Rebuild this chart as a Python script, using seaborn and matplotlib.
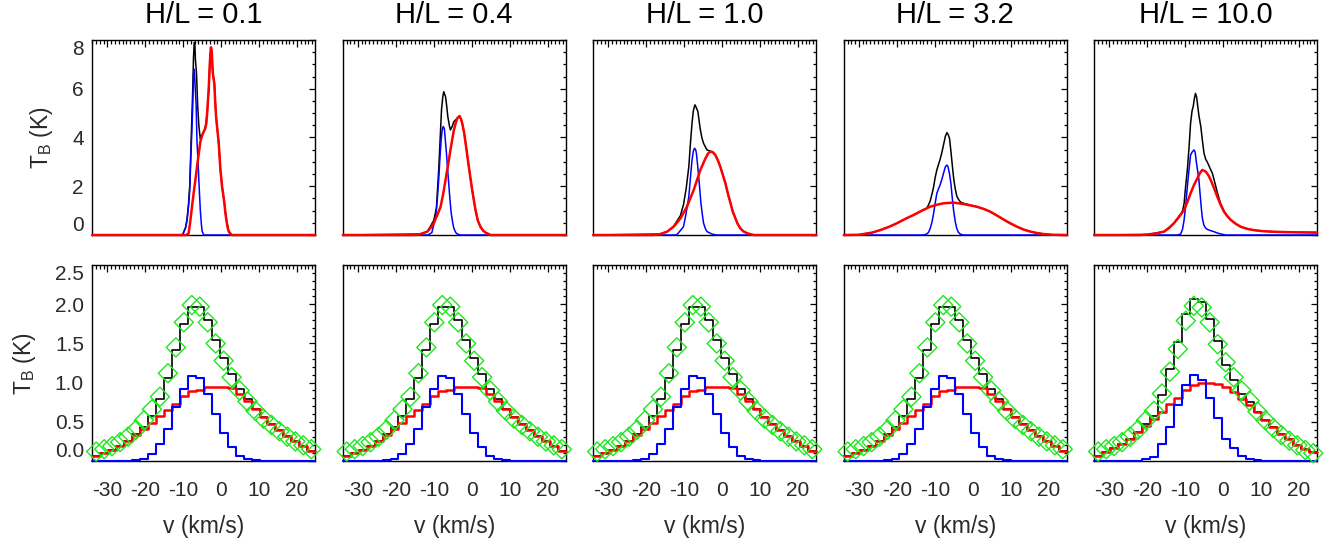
import numpy as np
import pandas as pd
import matplotlib
matplotlib.use("Agg")
import matplotlib.pyplot as plt
from matplotlib.ticker import MultipleLocator, FormatStrFormatter
import seaborn as sns

sns.set_theme(style="white")
plt.rcParams["font.family"] = ["Liberation Sans", "DejaVu Sans"]
plt.rcParams["mathtext.fontset"] = "custom"
plt.rcParams["mathtext.rm"] = "Liberation Sans"
plt.rcParams["mathtext.it"] = "Liberation Sans:italic"
plt.rcParams["axes.unicode_minus"] = False

# panel titles
ratios = ["0.1", "0.4", "1.0", "3.2", "10.0"]

# ---- top row: full-resolution spectra, (v [km/s], T_B [K]) ----
p1_black = [(-34.0, 0), (-10.2, 0), (-9.4, 0.3), (-9.0, 0.65), (-8.6, 1.3), (-8.3, 2.0), (-8.0, 3.5),
            (-7.7, 5.0), (-7.5, 6.0), (-7.3, 7.3), (-7.1, 7.9), (-6.95, 7.85), (-6.8, 7.2), (-6.5, 6.6),
            (-6.2, 5.3), (-5.9, 4.5), (-5.7, 4.2), (-5.5, 3.95), (-5.3, 4.05), (-5.05, 4.1), (-4.6, 4.24),
            (-4.2, 4.38), (-3.7, 5.0), (-3.3, 5.95), (-2.85, 7.45), (-2.6, 7.52), (-2.2, 6.63), (-1.8, 6.2),
            (-1.35, 4.86), (-0.65, 3.76), (-0.2, 2.67), (0.23, 1.98), (0.85, 1.3), (1.37, 0.62), (2.0, 0.14),
            (2.9, 0), (24.8, 0)]
p1_blue = [(-34.0, 0), (-10.2, 0), (-9.4, 0.3), (-9.0, 0.6), (-8.6, 1.2), (-8.3, 1.85), (-8.0, 3.2),
           (-7.7, 4.4), (-7.5, 5.3), (-7.3, 6.6), (-7.1, 6.8), (-6.9, 6.2), (-6.6, 5.3), (-6.4, 3.9),
           (-6.1, 3.0), (-5.9, 2.26), (-5.5, 1.0), (-5.2, 0.4), (-5.0, 0.14), (-4.6, 0), (24.8, 0)]
p1_red = [(-34.0, 0), (-9.2, 0), (-8.6, 0.07), (-8.2, 0.5), (-7.7, 1.16), (-7.2, 1.8), (-6.8, 2.26),
          (-6.3, 2.9), (-5.9, 3.35), (-5.5, 3.83), (-5.0, 4.1), (-4.6, 4.24), (-4.2, 4.38), (-3.9, 4.6),
          (-3.7, 5.0), (-3.5, 5.5), (-3.3, 5.95), (-3.05, 6.9), (-2.85, 7.45), (-2.7, 7.7), (-2.5, 7.55),
          (-2.2, 6.63), (-1.8, 6.2), (-1.6, 5.5), (-1.35, 4.86), (-1.0, 4.3), (-0.65, 3.76), (-0.2, 2.67),
          (0.23, 1.98), (0.5, 1.7), (0.85, 1.3), (1.1, 0.9), (1.37, 0.62), (1.7, 0.3), (2.0, 0.14),
          (2.5, 0.03), (2.9, 0), (24.8, 0)]

p2_black = [(-34.0, 0), (-13.5, 0.04), (-11.7, 0.14), (-10.9, 0.35), (-10.0, 0.6), (-9.3, 1.1), (-8.7, 2.67),
            (-8.3, 4.0), (-7.96, 5.13), (-7.6, 5.7), (-7.35, 5.88), (-7.1, 5.75), (-6.9, 5.68), (-6.6, 5.3),
            (-6.3, 4.86), (-5.9, 4.5), (-5.6, 4.31), (-5.15, 4.45), (-4.7, 4.65), (-3.8, 4.79), (-3.2, 4.88),
            (-2.8, 4.75), (-2.5, 4.58), (-2.0, 4.2), (-1.6, 3.76), (-1.2, 3.3), (-0.75, 2.8), (-0.3, 2.3),
            (0.13, 1.85), (0.6, 1.4), (1.0, 1.03), (1.6, 0.6), (2.3, 0.34), (3.0, 0.18), (3.65, 0.1),
            (5.0, 0), (24.8, 0)]
p2_blue = [(-34.0, 0), (-11.5, 0), (-10.5, 0.1), (-9.5, 0.75), (-9.1, 1.4), (-8.7, 2.26), (-8.4, 3.1),
           (-8.05, 3.9), (-7.75, 4.35), (-7.5, 4.45), (-7.2, 4.35), (-6.9, 3.8), (-6.65, 3.35), (-6.3, 2.6),
           (-6.0, 2.0), (-5.7, 1.4), (-5.4, 0.9), (-5.0, 0.5), (-4.7, 0.27), (-4.2, 0.1), (-3.8, 0.04),
           (-3.0, 0), (24.8, 0)]
p2_red = [(-34.0, 0), (-15.0, 0), (-13.5, 0.04), (-11.7, 0.14), (-10.8, 0.3), (-10.0, 0.48), (-9.0, 0.85),
          (-8.2, 1.16), (-7.5, 1.7), (-6.9, 2.26), (-6.2, 2.9), (-5.6, 3.49), (-5.1, 3.95), (-4.7, 4.3),
          (-4.2, 4.6), (-3.8, 4.79), (-3.2, 4.88), (-2.8, 4.75), (-2.5, 4.58), (-2.0, 4.2), (-1.6, 3.76),
          (-1.2, 3.3), (-0.75, 2.8), (-0.3, 2.3), (0.13, 1.85), (0.6, 1.4), (1.0, 1.03), (1.6, 0.6),
          (2.3, 0.34), (3.0, 0.18), (3.65, 0.1), (5.0, 0), (24.8, 0)]

p3_black = [(-34.0, 0), (-16.3, 0.04), (-14.5, 0.14), (-12.8, 0.36), (-11.0, 0.8), (-10.2, 1.25), (-9.5, 1.9),
            (-8.8, 2.8), (-8.4, 3.7), (-7.95, 4.6), (-7.6, 5.1), (-7.2, 5.34), (-6.9, 5.25), (-6.4, 5.06),
            (-6.1, 4.7), (-5.75, 4.31), (-5.3, 3.95), (-4.9, 3.76), (-4.4, 3.6), (-4.0, 3.49), (-3.3, 3.45),
            (-2.5, 3.4), (-1.8, 3.28), (-1.1, 3.05), (-0.5, 2.8), (0.2, 2.45), (0.85, 2.12), (1.5, 1.7),
            (2.2, 1.3), (2.8, 0.95), (3.5, 0.68), (4.1, 0.45), (4.8, 0.27), (5.6, 0.15), (6.6, 0.07),
            (8.3, 0), (24.8, 0)]
p3_blue = [(-34.0, 0), (-12.5, 0), (-11.9, 0.02), (-10.2, 0.34), (-9.5, 0.9), (-8.8, 1.57), (-8.4, 2.3),
           (-7.95, 3.08), (-7.6, 3.45), (-7.3, 3.56), (-7.0, 3.5), (-6.8, 3.35), (-6.5, 2.9), (-6.2, 2.4),
           (-5.9, 1.85), (-5.6, 1.3), (-5.2, 0.8), (-4.9, 0.48), (-4.4, 0.25), (-4.0, 0.14), (-2.7, 0.04),
           (-1.5, 0), (24.8, 0)]
p3_red = [(-34.0, 0), (-18.0, 0), (-16.3, 0.04), (-14.5, 0.14), (-12.8, 0.34), (-11.0, 0.68), (-9.3, 1.16),
          (-7.5, 1.85), (-5.75, 2.67), (-4.4, 3.15), (-3.7, 3.35), (-3.1, 3.42), (-2.5, 3.4), (-1.8, 3.28),
          (-1.1, 3.05), (-0.5, 2.8), (0.2, 2.45), (0.85, 2.12), (1.5, 1.7), (2.2, 1.3), (2.8, 0.95),
          (3.5, 0.68), (4.1, 0.45), (4.8, 0.27), (5.6, 0.15), (6.6, 0.07), (8.3, 0), (24.8, 0)]

p4_black = [(-34.0, 0), (-30.0, 0.01), (-28.8, 0.04), (-26.5, 0.1), (-24.4, 0.2), (-22.0, 0.34), (-20.0, 0.48),
            (-17.8, 0.66), (-15.6, 0.82), (-13.4, 1.0), (-12.6, 1.05), (-12.1, 1.1), (-11.6, 1.25), (-11.2, 1.4),
            (-10.7, 1.7), (-10.3, 1.98), (-9.9, 2.35), (-9.45, 2.67), (-9.0, 2.9), (-8.6, 3.1), (-8.1, 3.4),
            (-7.7, 3.69), (-7.2, 4.05), (-6.8, 4.2), (-6.4, 4.1), (-6.1, 3.95), (-5.75, 3.45), (-5.4, 2.9),
            (-5.0, 2.3), (-4.6, 1.9), (-4.2, 1.6), (-3.7, 1.45), (-3.2, 1.35), (-2.4, 1.3), (1.1, 1.16),
            (2.9, 1.07), (4.6, 0.96), (6.4, 0.8), (8.1, 0.64), (9.9, 0.48), (11.7, 0.34), (13.5, 0.22),
            (15.2, 0.14), (17.0, 0.08), (18.7, 0.04), (21.0, 0.01), (24.8, 0)]
p4_blue = [(-34.0, 0), (-13.0, 0), (-12.1, 0.04), (-11.6, 0.12), (-11.2, 0.27), (-10.7, 0.55), (-10.3, 0.89),
           (-9.9, 1.3), (-9.45, 1.71), (-9.0, 1.9), (-8.6, 2.05), (-8.1, 2.3), (-7.7, 2.53), (-7.2, 2.8),
           (-6.8, 2.87), (-6.5, 2.8), (-6.1, 2.5), (-5.75, 2.12), (-5.4, 1.55), (-5.05, 1.03), (-4.6, 0.55),
           (-4.2, 0.27), (-3.8, 0.12), (-3.3, 0.04), (-2.5, 0), (24.8, 0)]
p4_red = [(-34.0, 0), (-30.0, 0.01), (-28.8, 0.04), (-26.5, 0.1), (-24.4, 0.2), (-22.0, 0.34), (-20.0, 0.48),
          (-17.8, 0.66), (-15.6, 0.82), (-13.4, 1.0), (-11.2, 1.16), (-9.5, 1.24), (-7.7, 1.3), (-5.05, 1.33),
          (-2.4, 1.27), (1.1, 1.16), (2.9, 1.07), (4.6, 0.96), (6.4, 0.8), (8.1, 0.64), (9.9, 0.48),
          (11.7, 0.34), (13.5, 0.22), (15.2, 0.14), (17.0, 0.08), (18.7, 0.04), (21.0, 0.01), (24.8, 0)]

p5_black = [(-34.0, 0), (-20.0, 0.02), (-15.6, 0.14), (-13.0, 0.48), (-11.6, 0.78), (-11.2, 0.85), (-10.7, 1.0),
            (-10.3, 1.3), (-9.9, 2.0), (-9.45, 2.67), (-9.0, 3.6), (-8.6, 4.58), (-8.2, 5.1), (-7.9, 5.27),
            (-7.6, 5.6), (-7.3, 5.81), (-7.0, 5.65), (-6.8, 5.4), (-6.4, 4.9), (-5.9, 4.45), (-5.5, 3.9),
            (-5.05, 3.35), (-4.6, 3.1), (-4.2, 3.0), (-3.5, 2.75), (-2.85, 2.53), (-2.2, 2.15), (-1.55, 1.75),
            (-0.7, 1.3), (0.2, 0.98), (1.1, 0.78), (2.0, 0.62), (3.3, 0.46), (4.6, 0.34), (6.4, 0.25),
            (8.1, 0.2), (10.3, 0.16), (12.5, 0.14), (16.0, 0.12), (19.6, 0.11), (24.8, 0.1)]
p5_blue = [(-34.0, 0), (-12.0, 0), (-11.2, 0.04), (-10.7, 0.25), (-10.3, 0.62), (-9.9, 1.2), (-9.45, 1.98),
           (-9.0, 2.7), (-8.6, 3.28), (-8.2, 3.4), (-7.7, 3.49), (-7.4, 3.4), (-7.0, 2.9), (-6.7, 2.6),
           (-6.4, 2.26), (-6.1, 1.7), (-5.8, 1.16), (-5.5, 0.7), (-5.1, 0.41), (-4.6, 0.28), (-4.2, 0.23),
           (-3.3, 0.18), (-2.5, 0.14), (-1.5, 0.08), (-0.6, 0.04), (0.7, 0), (24.8, 0)]
p5_red = [(-34.0, 0), (-22.0, 0), (-20.0, 0.02), (-17.8, 0.06), (-15.6, 0.14), (-14.3, 0.28), (-13.0, 0.48),
          (-11.6, 0.75), (-10.3, 1.03), (-9.45, 1.35), (-8.6, 1.71), (-7.7, 2.05), (-6.8, 2.33), (-6.1, 2.55),
          (-5.5, 2.67), (-4.6, 2.6), (-3.9, 2.45), (-3.3, 2.26), (-2.4, 1.92), (-1.55, 1.57), (-0.7, 1.25),
          (0.2, 0.96), (1.1, 0.77), (2.0, 0.62), (3.3, 0.46), (4.6, 0.34), (6.4, 0.25), (8.1, 0.2),
          (10.3, 0.16), (12.5, 0.14), (16.0, 0.12), (19.6, 0.11), (24.8, 0.1)]

top_curves = [(p1_black, p1_blue, p1_red), (p2_black, p2_blue, p2_red), (p3_black, p3_blue, p3_red),
              (p4_black, p4_blue, p4_red), (p5_black, p5_blue, p5_red)]

# ---- bottom row: binned spectra (2.1 km/s channels) ----
bin_v = [-32.95, -30.85, -28.75, -26.65, -24.55, -22.45, -20.35, -18.25, -16.15, -14.05,
         -11.95, -9.85, -7.75, -5.65, -3.55, -1.45, 0.65, 2.75, 4.85, 6.95,
         9.05, 11.15, 13.25, 15.35, 17.45, 19.55, 21.65, 23.75]

low_black = [0.07, 0.10, 0.14, 0.19, 0.26, 0.34, 0.44, 0.58, 0.79, 1.06, 1.42, 1.75, 1.97, 1.97,
             1.80, 1.55, 1.31, 1.11, 0.92, 0.79, 0.67, 0.56, 0.47, 0.39, 0.32, 0.25, 0.19, 0.13]
low_red = [0.07, 0.10, 0.14, 0.19, 0.26, 0.33, 0.41, 0.49, 0.57, 0.65, 0.73, 0.83, 0.89, 0.91,
           0.94, 0.95, 0.95, 0.93, 0.86, 0.76, 0.66, 0.56, 0.47, 0.39, 0.32, 0.25, 0.19, 0.13]
low_blue = [0, 0, 0, 0, 0, 0.01, 0.03, 0.085, 0.22, 0.41, 0.69, 0.92, 1.08, 1.06,
            0.86, 0.60, 0.36, 0.18, 0.06, 0.03, 0.01, 0, 0, 0, 0, 0, 0, 0]
low_green = [0.12, 0.15, 0.19, 0.24, 0.31, 0.40, 0.52, 0.66, 0.82, 1.12, 1.45, 1.77, 1.99, 1.97,
             1.77, 1.50, 1.28, 1.07, 0.90, 0.76, 0.64, 0.54, 0.46, 0.38, 0.31, 0.25, 0.20, 0.15]

low5_black = [0.07, 0.11, 0.16, 0.22, 0.28, 0.37, 0.47, 0.58, 0.84, 1.17, 1.52, 1.87, 2.07, 2.03,
              1.81, 1.53, 1.22, 1.04, 0.85, 0.75, 0.63, 0.52, 0.43, 0.35, 0.28, 0.20, 0.15, 0.11]
low5_red = [0.07, 0.11, 0.16, 0.22, 0.28, 0.37, 0.45, 0.53, 0.62, 0.73, 0.81, 0.90, 0.97, 1.00,
            1.00, 0.98, 0.94, 0.88, 0.79, 0.72, 0.62, 0.52, 0.43, 0.35, 0.28, 0.20, 0.15, 0.11]
low5_blue = [0, 0, 0, 0, 0, 0, 0.02, 0.05, 0.22, 0.44, 0.71, 0.97, 1.10, 1.03,
             0.81, 0.55, 0.28, 0.16, 0.06, 0.03, 0.01, 0, 0, 0, 0, 0, 0, 0]
low5_green = [0.12, 0.15, 0.19, 0.24, 0.31, 0.40, 0.52, 0.64, 0.86, 1.14, 1.43, 1.79, 1.98, 1.96,
              1.77, 1.49, 1.26, 1.07, 0.90, 0.77, 0.63, 0.52, 0.42, 0.33, 0.26, 0.20, 0.14, 0.10]

low_sets = [(low_black, low_red, low_blue, low_green)] * 4 + [(low5_black, low5_red, low5_blue, low5_green)]

XLIM = (-34.0, 24.8)
BLACK, BLUE, RED, GREEN = "#000000", "#0000ff", "#ff0000", "#1ee61e"
TICK_COL = "#2a2a2a"

fig = plt.figure(figsize=(13.33, 5.44), dpi=100)

half = 1.05
edges = [v - half for v in bin_v] + [bin_v[-1] + half]


def style_axes(ax, ymaj, ymin, yfmt):
    ax.set_xlim(*XLIM)
    ax.xaxis.set_major_locator(MultipleLocator(10))
    ax.xaxis.set_minor_locator(MultipleLocator(1))
    ax.yaxis.set_major_locator(MultipleLocator(ymaj))
    ax.yaxis.set_minor_locator(MultipleLocator(ymin))
    ax.yaxis.set_major_formatter(FormatStrFormatter(yfmt))
    ax.tick_params(which="both", direction="in", top=True, right=True, colors=BLACK,
                   labelcolor=TICK_COL, labelsize=15, width=0.9)
    ax.tick_params(axis="x", which="major", length=5, pad=14.5)
    ax.tick_params(axis="x", which="minor", length=2.6)
    ax.tick_params(axis="y", which="major", length=4, pad=6)
    ax.tick_params(axis="y", which="minor", length=2)
    for s in ax.spines.values():
        s.set_color(BLACK)
        s.set_linewidth(1.0)
    ax.set_facecolor("white")
    ax.grid(False)


left0, width, step = 0.0692, 0.1673, 0.18792
for i in range(5):
    left = left0 + i * step

    # top row
    ax = fig.add_axes([left, 0.568, width, 0.3585])
    for pts, col, lw in zip(top_curves[i], (BLACK, BLUE, RED), (1.1, 1.1, 1.8)):
        d = pd.DataFrame(pts, columns=["v", "T"])
        sns.lineplot(data=d, x="v", y="T", sort=False, estimator=None, color=col,
                     linewidth=lw, ax=ax, legend=False, zorder=3, clip_on=False)
    ax.set_ylim(0, 8)
    style_axes(ax, 2, 0.5, "%d")
    ax.tick_params(axis="x", labelbottom=False)
    ax.set_xlabel("")
    ax.set_title(f"H/L = {ratios[i]}", fontsize=21, pad=12, color=BLACK)
    if i == 0:
        ax.set_ylabel(r"T$_{\rm B}$ (K)", fontsize=16.5, color=TICK_COL, labelpad=12)
    else:
        ax.set_ylabel("")
        ax.tick_params(axis="y", labelleft=False)
    ax.set_yticks([0, 2, 4, 6, 8])
    ticks = ax.yaxis.get_major_ticks()
    ticks[0].label1.set_va("bottom")
    ticks[-1].label1.set_va("top")

    # bottom row
    ax = fig.add_axes([left, 0.1526, width, 0.360])
    blk, red, blu, grn = low_sets[i]
    for vals, col, lw in ((blk, BLACK, 1.2), (red, RED, 1.8), (blu, BLUE, 1.5)):
        sns.histplot(x=bin_v, weights=vals, bins=edges, element="step", fill=False,
                     color=col, linewidth=lw, ax=ax, zorder=3, clip_on=False)
    sns.scatterplot(x=bin_v, y=grn, marker="D", s=95, facecolors="none", edgecolor=GREEN,
                    linewidth=1.0, ax=ax, zorder=4, clip_on=False)
    ax.set_ylim(0, 2.5)
    style_axes(ax, 0.5, 0.1, "%.1f")
    ax.set_xticks([-30, -20, -10, 0, 10, 20])
    ax.set_xlabel("v (km/s)", fontsize=16.5, color=TICK_COL, labelpad=11)
    if i == 0:
        ax.set_ylabel(r"T$_{\rm B}$ (K)", fontsize=16.5, color=TICK_COL, labelpad=12)
    else:
        ax.set_ylabel("")
        ax.tick_params(axis="y", labelleft=False)
    ax.set_yticks([0, 0.5, 1.0, 1.5, 2.0, 2.5])
    ticks = ax.yaxis.get_major_ticks()
    ticks[0].label1.set_va("bottom")
    ticks[-1].label1.set_va("top")

fig.savefig("out.png", dpi=100, facecolor="white")
